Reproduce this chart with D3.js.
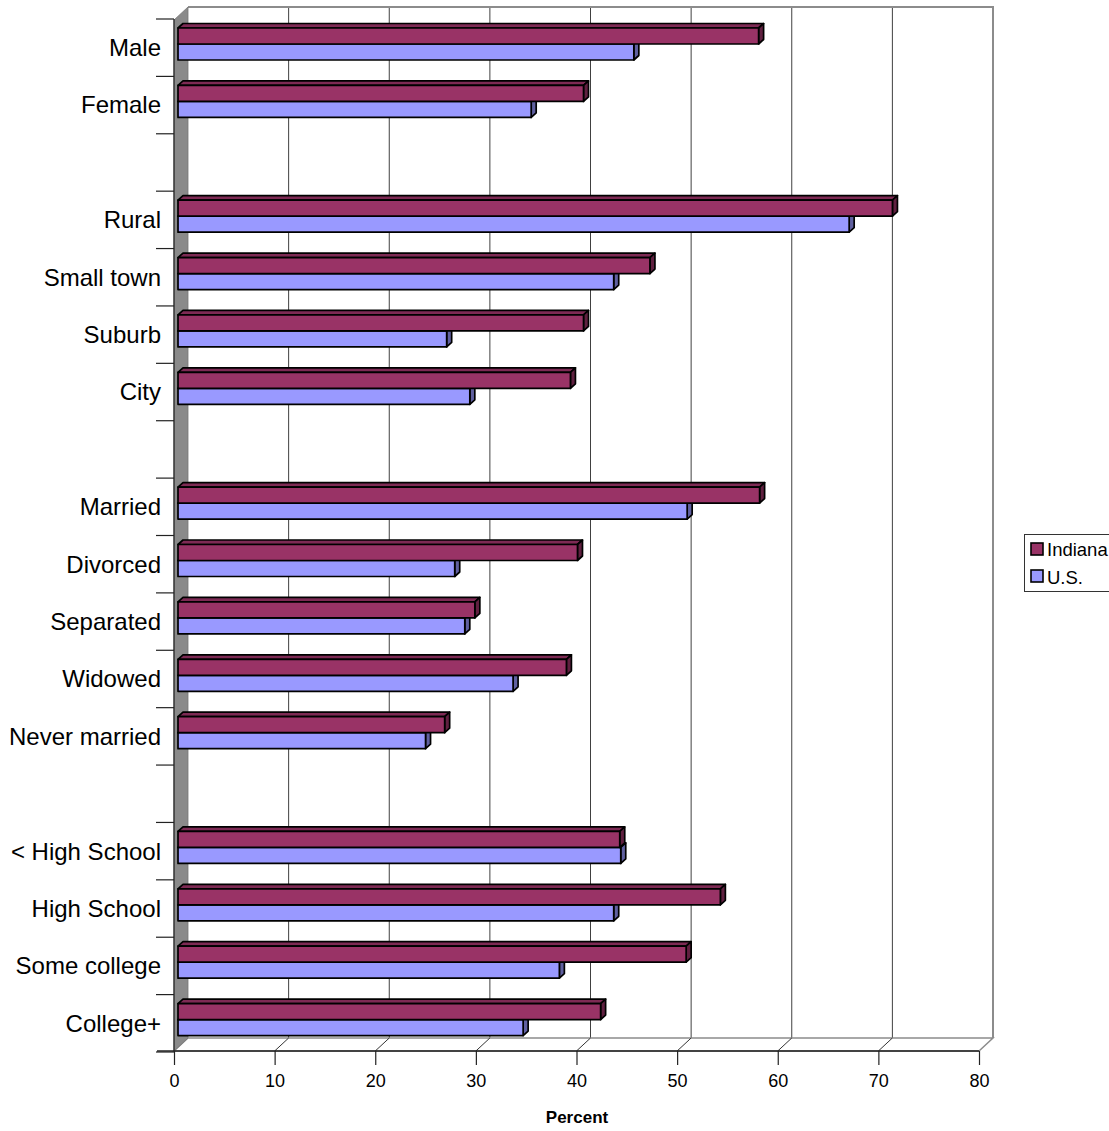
<!DOCTYPE html>
<html>
<head>
<meta charset="utf-8">
<script src="https://cdn.jsdelivr.net/npm/d3@7/dist/d3.min.js"></script>
<style>
  html, body { margin: 0; padding: 0; background: #fff; }
  svg { display: block; }
  text { font-family: Arial, "Liberation Sans", sans-serif; fill: #000; }
</style>
</head>
<body>
<svg id="chart" width="1109" height="1131"></svg>
<script>
// ---- data ----
const categories = ["Male", "Female", "", "Rural", "Small town", "Suburb", "City", "",
  "Married", "Divorced", "Separated", "Widowed", "Never married", "",
  "< High School", "High School", "Some college", "College+"];
const indiana = [57.7, 40.3, null, 71.0, 46.9, 40.3, 39.0, null,
  57.8, 39.7, 29.5, 38.6, 26.5, null, 43.9, 53.9, 50.5, 42.0];
const us = [45.3, 35.1, null, 66.7, 43.3, 26.7, 29.0, null,
  50.6, 27.5, 28.5, 33.3, 24.6, null, 44.0, 43.3, 37.9, 34.3];
const seriesNames = ["Indiana", "U.S."];
const xTicks = [0, 10, 20, 30, 40, 50, 60, 70, 80];
const axisTitle = "Percent";

// ---- layout ----
const svg = d3.select("#chart");
const FL = 174, FR = 979, FT = 20, FB = 1051;   // front plane
const DX = 14, DY = -13;                         // wall depth
const BAR_DX = 4;                                // bar front plane offset
const CAP_DX = 5, CAP_DY = -4.5;                 // bar depth
const colors = { ind: "#993366", us: "#9999ff" };

const x = d3.scaleLinear().domain([0, 80]).range([0, FR - FL]);
const y = d3.scaleBand().domain(d3.range(categories.length)).range([19, 1052]).padding(0);

svg.append("rect").attr("width", 1109).attr("height", 1131).attr("fill", "#fff");

// back wall
const BL = FL + DX, BT = FT + DY, BB = FB + DY, BR = FR + DX;
svg.append("rect").attr("x", BL).attr("y", BT).attr("width", BR - BL).attr("height", BB - BT)
  .attr("fill", "#fff");
// gridlines
svg.append("g").selectAll("line").data(xTicks.filter(t => t > 0 && t < 80)).join("line")
  .attr("x1", d => BL + x(d)).attr("x2", d => BL + x(d))
  .attr("y1", BT).attr("y2", BB)
  .attr("stroke", "#404040").attr("stroke-width", 1);
// wall border top and right
svg.append("path")
  .attr("d", `M${BL},${BT}H${BR}V${BB}`)
  .attr("fill", "none").attr("stroke", "#8c8c8c").attr("stroke-width", 2);

// floor
svg.append("path")
  .attr("d", `M${FL},${FB}L${BL},${BB}H${BR}L${FR},${FB}Z`)
  .attr("fill", "#fff").attr("stroke", "#8c8c8c").attr("stroke-width", 1.5);
// floor diagonals
svg.append("g").selectAll("line").data(xTicks.filter(t => t > 0 && t < 80)).join("line")
  .attr("x1", d => FL + x(d)).attr("y1", FB)
  .attr("x2", d => BL + x(d)).attr("y2", BB)
  .attr("stroke", "#333").attr("stroke-width", 1);

// side wall
svg.append("path")
  .attr("d", `M${FL},${FT}L${BL},${BT}V${BB}L${FL},${FB}Z`)
  .attr("fill", "#8a8a8a").attr("stroke", "#777").attr("stroke-width", 0.8);

// bars
function bar(g, v, top, h, color) {
  if (v == null) return;
  const x0 = FL + BAR_DX, x1 = FL + BAR_DX + x(v);
  const c = d3.color(color);
  const topC = c.darker(0.55).formatHex();
  const sideC = c.darker(1.3).formatHex();
  const st = { stroke: "#000", "stroke-width": 1.7, "stroke-linejoin": "round" };
  const ap = (sel) => { for (const k in st) sel.attr(k, st[k]); return sel; };
  ap(g.append("path").attr("d",
    `M${x0},${top}L${x1},${top}L${x1 + CAP_DX},${top + CAP_DY}L${x0 + CAP_DX},${top + CAP_DY}Z`)
    .attr("fill", topC));
  ap(g.append("path").attr("d",
    `M${x1},${top}L${x1},${top + h}L${x1 + CAP_DX},${top + h + CAP_DY}L${x1 + CAP_DX},${top + CAP_DY}Z`)
    .attr("fill", sideC));
  ap(g.append("rect").attr("x", x0).attr("y", top).attr("width", x1 - x0).attr("height", h)
    .attr("fill", color));
}
const bars = svg.append("g");
categories.forEach((c, i) => {
  const g = bars.append("g");
  const t = y(i) + 9;
  bar(g, us[i], t + 16, 16, colors.us);
  bar(g, indiana[i], t, 16, colors.ind);
});

// y axis line & category ticks
svg.append("line").attr("x1", FL).attr("x2", FL).attr("y1", FT - 1).attr("y2", FB)
  .attr("stroke", "#222").attr("stroke-width", 1.2);
const bounds = d3.range(categories.length + 1).map(i => i < categories.length ? y(i) : y(i - 1) + y.bandwidth());
svg.append("g").selectAll("line").data(bounds).join("line")
  .attr("x1", 156).attr("x2", FL).attr("y1", d => d).attr("y2", d => d)
  .attr("stroke", "#222").attr("stroke-width", 1.2);
svg.append("g").selectAll("text").data(categories).join("text")
  .attr("x", 161).attr("y", (d, i) => y(i) + y.bandwidth() / 2)
  .attr("dy", "0.35em").attr("text-anchor", "end")
  .attr("font-size", 24).text(d => d);

// x axis
const xFront = d3.scaleLinear().domain([0, 80]).range([FL, FR]);
const xAxis = svg.append("g").attr("transform", `translate(0,${FB})`)
  .call(d3.axisBottom(xFront).tickValues(xTicks).tickSize(14).tickSizeOuter(0).tickPadding(9).tickFormat(d3.format("d")));
xAxis.select(".domain").remove();
xAxis.selectAll(".tick line").attr("stroke", "#222").attr("stroke-width", 1.2);
xAxis.selectAll(".tick text").attr("font-size", 18).attr("font-family", "Arial, 'Liberation Sans', sans-serif").attr("fill", "#000");
svg.append("line").attr("x1", 157).attr("x2", FR).attr("y1", FB).attr("y2", FB)
  .attr("stroke", "#222").attr("stroke-width", 1.4);

svg.append("text").attr("x", 577).attr("y", 1123).attr("text-anchor", "middle")
  .attr("font-size", 17).attr("font-weight", "bold").text(axisTitle);

// legend
const lg = svg.append("g");
lg.append("rect").attr("x", 1024.5).attr("y", 534.5).attr("width", 100).attr("height", 57)
  .attr("fill", "#fff").attr("stroke", "#333").attr("stroke-width", 1);
[colors.ind, colors.us].forEach((c, i) => {
  lg.append("rect").attr("x", 1031).attr("y", 543 + i * 27).attr("width", 12).attr("height", 12)
    .attr("fill", c).attr("stroke", "#000").attr("stroke-width", 1.6);
  lg.append("text").attr("x", 1047).attr("y", 556 + i * 28).attr("font-size", 18.5).text(seriesNames[i]);
});
</script>
</body>
</html>
